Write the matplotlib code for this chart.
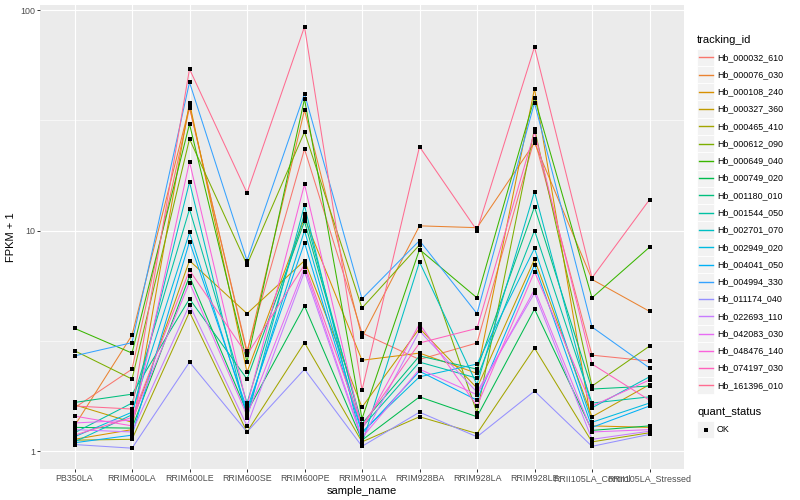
import numpy as np
import matplotlib
matplotlib.use("Agg")
import matplotlib.pyplot as plt
from matplotlib.patches import Rectangle
from matplotlib.ticker import NullFormatter

plt.rcParams['font.family'] = ['Liberation Sans', 'DejaVu Sans']

sample_names = ["PB350LA", "RRIM600LA", "RRIM600LE", "RRIM600SE", "RRIM600PE",
                "RRIM901LA", "RRIM928BA", "RRIM928LA", "RRIM928LE",
                "RRII105LA_Control", "RRII105LA_Stressed"]

tracking_ids = ["Hb_000032_610", "Hb_000076_030", "Hb_000108_240", "Hb_000327_360",
                "Hb_000465_410", "Hb_000612_090", "Hb_000649_040", "Hb_000749_020",
                "Hb_001180_010", "Hb_001544_050", "Hb_002701_070", "Hb_002949_020",
                "Hb_004041_050", "Hb_004994_330", "Hb_011174_040", "Hb_022693_110",
                "Hb_042083_030", "Hb_048476_140", "Hb_074197_030", "Hb_161396_010"]

# ggplot default hue palette for 20 levels
colors = ["#F8766D", "#EA8331", "#D89000", "#C09B00", "#A3A500", "#7CAE00", "#39B600",
          "#00BB4E", "#00BF7D", "#00C1A3", "#00BFC4", "#00BAE0", "#00B0F6", "#35A2FF",
          "#9590FF", "#C77CFF", "#E76BF3", "#FA62DB", "#FF62BC", "#FF6C91"]

# FPKM + 1 for each sample, in tracking_ids order
PB350LA = [1.57, 1.30, 1.13, 1.62, 1.12, 2.85, 3.60, 1.28, 1.66, 1.21,
           1.10, 1.16, 1.09, 2.70, 1.07, 1.25, 1.34, 1.44, 1.18, 1.60]
RRIM600LA = [2.35, 3.35, 1.25, 1.35, 1.13, 2.12, 2.78, 1.27, 1.81, 1.65,
             1.46, 1.50, 1.18, 3.10, 1.03, 1.22, 1.38, 1.30, 1.42, 1.55]
RRIM600LE = [36.0, 36.5, 38.0, 7.3, 4.27, 26.0, 30.4, 6.2, 4.9, 12.5,
             16.6, 9.8, 8.9, 47.0, 2.53, 4.6, 5.8, 20.5, 6.6, 54.0]
RRIM600SE = [2.84, 2.78, 2.28, 4.2, 1.22, 7.0, 2.53, 1.50, 2.12, 1.65,
             1.41, 1.49, 1.55, 7.3, 1.22, 1.30, 1.45, 1.60, 2.73, 14.8]
RRIM600PE = [23.4, 35.2, 11.4, 7.3, 3.1, 28.0, 39.5, 4.55, 11.0, 11.9,
             13.0, 10.0, 8.8, 41.7, 2.35, 6.5, 6.8, 16.2, 7.0, 84.0]
RRIM901LA = [3.43, 3.28, 2.58, 1.58, 1.10, 4.45, 1.40, 1.12, 1.33, 1.28,
             1.08, 1.22, 1.20, 4.9, 1.05, 1.13, 1.15, 1.25, 1.30, 1.89]
RRIM928BA = [2.6, 10.5, 2.78, 3.6, 1.43, 8.6, 8.2, 1.76, 2.7, 2.53,
             7.2, 2.17, 2.3, 9.0, 1.5, 3.5, 2.35, 3.77, 3.09, 24.0]
RRIM928LA = [3.09, 10.3, 2.25, 1.93, 1.20, 1.49, 4.95, 1.43, 2.35, 2.14,
             2.0, 2.48, 1.70, 4.2, 1.16, 1.85, 1.80, 1.60, 3.6, 10.0]
RRIM928LE = [26.0, 25.0, 44.0, 7.4, 2.93, 29.0, 40.0, 4.4, 12.8, 10.0,
             15.0, 8.3, 7.0, 38.0, 1.87, 5.2, 5.4, 6.5, 28.0, 68.0]
RRII105LA_Control = [2.72, 6.0, 1.30, 1.43, 1.10, 1.97, 4.95, 1.24, 1.91, 1.65,
                     1.57, 1.35, 1.28, 3.65, 1.05, 1.13, 1.22, 1.60, 2.48, 6.1]
RRII105LA_Stressed = [2.56, 4.3, 1.28, 2.0, 1.21, 2.99, 8.4, 1.30, 1.97, 1.76,
                      2.17, 1.65, 1.60, 2.38, 1.19, 1.23, 1.25, 2.10, 1.70, 13.8]

values = np.array([PB350LA, RRIM600LA, RRIM600LE, RRIM600SE, RRIM600PE, RRIM901LA,
                   RRIM928BA, RRIM928LA, RRIM928LE, RRII105LA_Control,
                   RRII105LA_Stressed]).T  # rows = tracking_id

W, H = 800, 500
fig = plt.figure(figsize=(W / 100, H / 100), dpi=100)
ax = fig.add_axes([40 / W, 1 - 469 / H, 644 / W, 464 / H])
ax.set_facecolor("#EBEBEB")

x = np.arange(len(sample_names))
for i in range(len(tracking_ids)):
    ax.plot(x, values[i], color=colors[i], lw=0.75, zorder=2)
for i in range(len(tracking_ids)):
    ax.plot(x, values[i], "s", color="black", ms=2.6, mew=0, zorder=3)

ax.set_yscale("log")
ax.set_xlim(-0.6, len(sample_names) - 0.4)
ax.set_ylim(10 ** -0.0816, 10 ** 2.0227)
ax.set_yticks([1, 10, 100])
ax.set_yticklabels(["1", "10", "100"])
ax.set_yticks([10 ** 0.5, 10 ** 1.5], minor=True)
ax.yaxis.set_minor_formatter(NullFormatter())
ax.set_xticks(x)
ax.set_xticklabels(sample_names)

ax.grid(which="major", color="white", lw=0.8)
ax.grid(which="minor", axis="y", color="white", lw=0.4)
ax.set_axisbelow(True)
for s in ax.spines.values():
    s.set_visible(False)
ax.tick_params(which="major", length=2, width=0.7, color="#333333",
               labelcolor="#4D4D4D", labelsize=6.4, pad=1.5)
ax.tick_params(which="minor", length=0)

ax.set_xlabel("sample_name", fontsize=8, labelpad=2)
ax.set_ylabel("FPKM + 1", fontsize=8, labelpad=3)

# legend drawn by hand in pixel coordinates
lg = fig.add_axes([0, 0, 1, 1], zorder=5)
lg.set_xlim(0, W)
lg.set_ylim(H, 0)
lg.axis("off")

lg.text(697, 40, "tracking_id", fontsize=8, va="center", ha="left")
y0, step = 57.3, 17.27
for i, tid in enumerate(tracking_ids):
    yc = y0 + i * step
    lg.add_patch(Rectangle((697, yc - step / 2), 17, step, facecolor="#F2F2F2",
                           edgecolor="white", lw=0.6))
    lg.plot([698.5, 712.5], [yc, yc], color=colors[i], lw=1.0)
    lg.text(717, yc, tid, fontsize=6.4, va="center", ha="left")

lg.text(697, 412, "quant_status", fontsize=8, va="center", ha="left")
lg.add_patch(Rectangle((697, 429.5 - step / 2), 17, step, facecolor="#F2F2F2",
                       edgecolor="white", lw=0.6))
lg.plot([705.5], [429.5], "s", color="black", ms=2.6, mew=0)
lg.text(717, 429.5, "OK", fontsize=6.4, va="center", ha="left")

fig.savefig("out.png", dpi=100)
